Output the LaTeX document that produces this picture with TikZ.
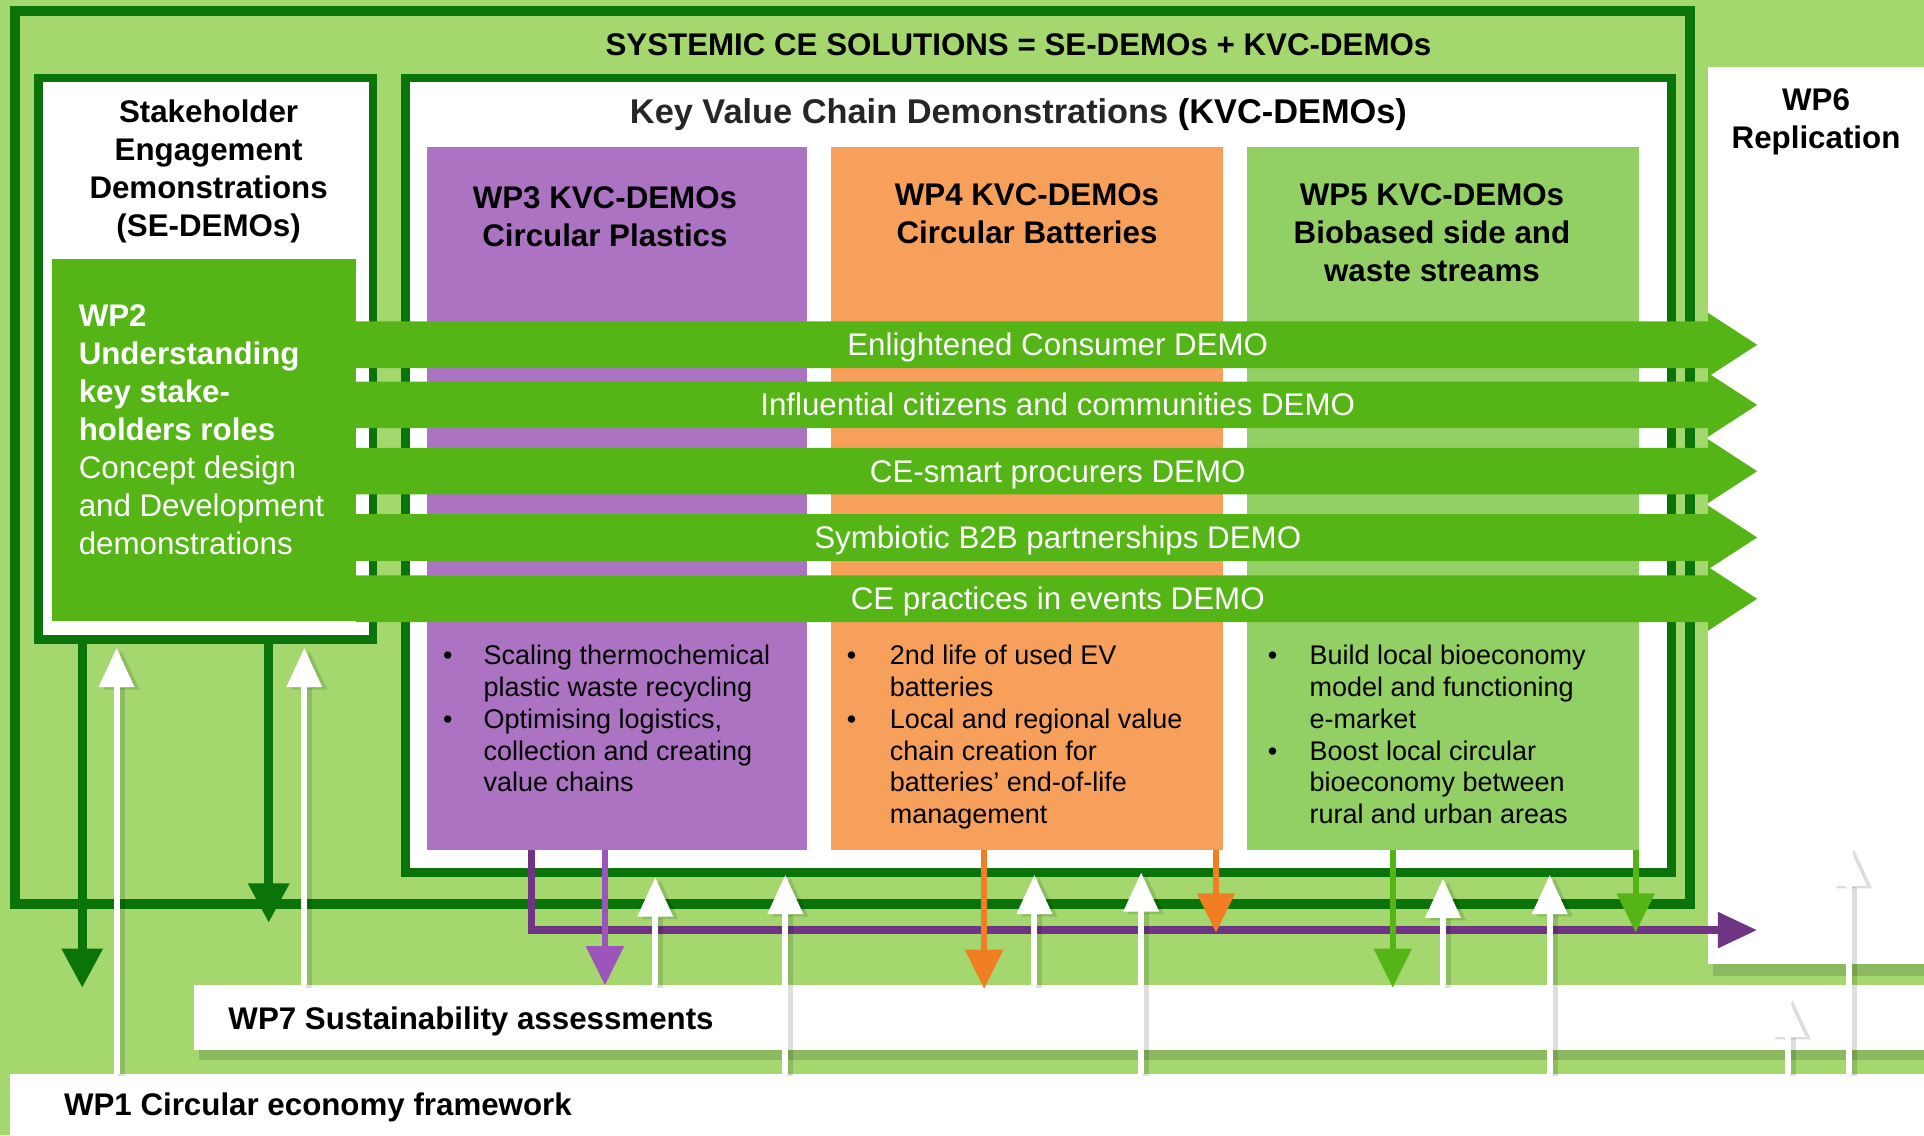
\documentclass[tikz,border=0pt]{standalone}
\usepackage{fontspec}
\setmainfont{Liberation Sans}
\usetikzlibrary{arrows.meta}
\definecolor{bgg}{HTML}{A4D86F}
\definecolor{dkg}{HTML}{0A730A}
\definecolor{bandg}{HTML}{55B516}
\definecolor{purcol}{HTML}{AD73C3}
\definecolor{orcol}{HTML}{F7A05B}
\definecolor{grcol}{HTML}{92CF65}
\definecolor{purline}{HTML}{6F3483}
\definecolor{purarr}{HTML}{9B55BB}
\definecolor{orarr}{HTML}{F07F23}
\definecolor{grarr}{HTML}{55B516}
\definecolor{kvcgray}{HTML}{262626}
\begin{document}
\begin{tikzpicture}[x=1pt,y=-1pt,
  frame/.style={draw=dkg, fill=white, line width=7pt, anchor=north west, inner sep=0pt, outer sep=0pt},
  panel/.style={draw=none, anchor=north west, inner sep=0pt, outer sep=0pt},
  hd/.style={font=\fontsize{25.5}{31}\selectfont\bfseries, align=center, inner sep=0pt},
  wt/.style={font=\fontsize{25.5}{31}\selectfont, text=white, inner sep=0pt},
  bl/.style={font=\fontsize{22}{26}\selectfont, anchor=north west, inner sep=0pt},
  warr/.style={draw=white, line width=5pt, -{Triangle[width=28pt,length=32pt]}},
  wsh/.style={draw=black, draw opacity=0.13, fill opacity=0.13, line width=5pt, -{Triangle[width=28pt,length=32pt]}, transform canvas={shift={(4pt,-2pt)}}},
  parr/.style={draw=purarr, line width=5pt, -{Triangle[width=30pt,length=32pt]}},
  oarr/.style={draw=orarr, line width=5pt, -{Triangle[width=30pt,length=32pt]}},
  garr/.style={draw=grarr, line width=5pt, -{Triangle[width=30pt,length=32pt]}},
  darr/.style={draw=dkg, line width=7pt, -{Triangle[width=32pt,length=32pt]}},
  pline/.style={draw=purline, line width=6pt, line join=miter, -{Triangle[width=28pt,length=32pt]}},
  boxshadow/.style={fill=black, fill opacity=0.14}
]
\useasboundingbox (0,0) rectangle (1568,925);
\fill[bgg] (0,0) rectangle (1568,925);

% frames
\node[frame, fill=none, line width=8pt, minimum width=1365pt, minimum height=728pt] (outer) at (12,9) {};
\node[frame, minimum width=272.5pt, minimum height=457.5pt] (se) at (31.5,63.5) {};
\node[frame, minimum width=1031.5pt, minimum height=647.5pt] (kvc) at (330.5,63.5) {};

% panels
\node[panel, fill=bandg, minimum width=248pt, minimum height=295pt] (wp2) at (42,211) {};
\node[panel, fill=purcol, minimum width=310pt, minimum height=573pt] (wp3) at (348,120) {};
\node[panel, fill=orcol, minimum width=320pt, minimum height=573pt] (wp4) at (677,120) {};
\node[panel, fill=grcol, minimum width=320pt, minimum height=573pt] (wp5) at (1016,120) {};

% WP6, WP7, WP1 boxes
\fill[boxshadow] (1396,786) rectangle (1568,795);
\node[panel, fill=white, minimum width=176pt, minimum height=731pt] (wp6) at (1392,55) {};
\fill[boxshadow] (162,856) rectangle (1568,864);
\node[panel, fill=white, minimum width=1410pt, minimum height=53pt] (wp7) at (158,803) {};
\node[panel, fill=white, minimum width=1560pt, minimum height=50pt] (wp1) at (8,875) {};

% green DEMO bands
\foreach \c in {281,330,384,438,488} {
  \fill[bandg] (290,\c-19) -- (1392,\c-19) -- (1392,\c-26) -- (1432,\c) -- (1392,\c+26) -- (1392,\c+19) -- (290,\c+19) -- cycle;
}
\node[wt, anchor=base] (b1) at (862,290) {Enlightened Consumer DEMO};
\node[wt, anchor=base] (b2) at (862,339) {Influential citizens and communities DEMO};
\node[wt, anchor=base] (b3) at (862,393) {CE-smart procurers DEMO};
\node[wt, anchor=base] (b4) at (862,447) {Symbiotic B2B partnerships DEMO};
\node[wt, anchor=base] (b5) at (862,497) {CE practices in events DEMO};

% titles
\node[hd, anchor=base] (title) at (830,45) {SYSTEMIC CE SOLUTIONS = SE-DEMOs + KVC-DEMOs};
\node[hd] (setitle) at (170,140) {Stakeholder\\Engagement\\Demonstrations\\(SE-DEMOs)};
\node[hd, font=\fontsize{28}{31}\selectfont\bfseries, anchor=base] (kvctitle) at (830,101) {\textcolor{kvcgray}{Key Value Chain Demonstrations} (KVC-DEMOs)};
\node[hd] (wp3t) at (493,177) {WP3 KVC-DEMOs\\Circular Plastics};
\node[hd] (wp4t) at (837,174) {WP4 KVC-DEMOs\\Circular Batteries};
\node[hd] (wp5t) at (1167,190) {WP5 KVC-DEMOs\\Biobased side and\\waste streams};
\node[wt, align=left, anchor=west] (wp2t) at (64,350) {\textbf{WP2}\\\textbf{Understanding}\\\textbf{key stake-}\\\textbf{holders roles}\\Concept design\\and Development\\demonstrations};
\node[hd] (wp6t) at (1480,99) {WP6\\Replication};
\node[hd, anchor=base west] (wp7t) at (186,839) {WP7 Sustainability assessments};
\node[hd, anchor=base west] (wp1t) at (52,909) {WP1 Circular economy framework};

% bullets
\node[bl] (wp3b) at (361,523) {\begin{tabular}{@{}p{33pt}@{}l@{}}
\textbullet & Scaling thermochemical\\
 & plastic waste recycling\\
\textbullet & Optimising logistics,\\
 & collection and creating\\
 & value chains
\end{tabular}};
\node[bl] (wp4b) at (690,523) {\begin{tabular}{@{}p{35pt}@{}l@{}}
\textbullet & 2nd life of used EV\\
 & batteries\\
\textbullet & Local and regional value\\
 & chain creation for\\
 & batteries’ end-of-life\\
 & management
\end{tabular}};
\node[bl] (wp5b) at (1033,523) {\begin{tabular}{@{}p{34pt}@{}l@{}}
\textbullet & Build local bioeconomy\\
 & model and functioning\\
 & e-market\\
\textbullet & Boost local circular\\
 & bioeconomy between\\
 & rural and urban areas
\end{tabular}};

% purple collector line
\coordinate (pl) at (433,758);
\coordinate (ptip) at (1432,758);
\draw[pline] (pl |- wp3.south) -- (pl) -- (ptip);

% coloured down arrows
\coordinate (pd) at (493,803);
\draw[parr] (pd |- wp3.south) -- (pd);
\coordinate (od1) at (802,806);
\draw[oarr] (od1 |- wp4.south) -- (od1);
\coordinate (od2) at (991,760);
\draw[oarr] (od2 |- wp4.south) -- (od2);
\coordinate (gd1) at (1135,805);
\draw[garr] (gd1 |- wp5.south) -- (gd1);
\coordinate (gd2) at (1333,760);
\draw[garr] (gd2 |- wp5.south) -- (gd2);
\coordinate (dd1) at (67,805);
\draw[darr] (dd1 |- se.south) -- (dd1);
\coordinate (dd2) at (219,752);
\draw[darr] (dd2 |- se.south) -- (dd2);

% white up arrows from WP1
\foreach \n/\x/\t in {a/95/528, b/640/713, c/930/711, d/1263/713, e/1457/813, f/1507/690} {
  \coordinate (up\n) at (\x,\t);
  \draw[wsh] (up\n |- wp1.north) -- (up\n);
  \draw[warr] (up\n |- wp1.north) -- (up\n);
}
% white up arrows from WP7
\foreach \n/\x/\t in {a/248/528, b/534/715, c/843/713, d/1176/716} {
  \coordinate (us\n) at (\x,\t);
  \draw[wsh] (us\n |- wp7.north) -- (us\n);
  \draw[warr] (us\n |- wp7.north) -- (us\n);
}
\end{tikzpicture}
\end{document}
